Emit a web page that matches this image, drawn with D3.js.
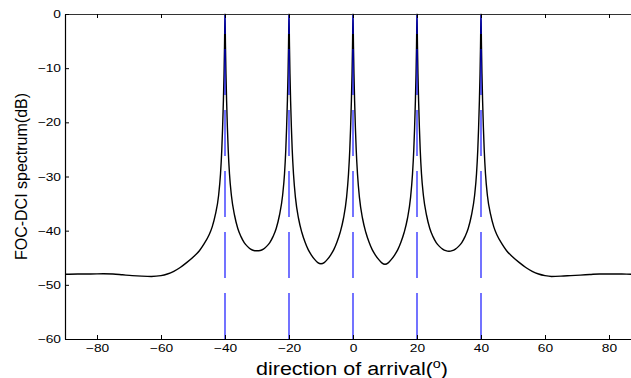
<!DOCTYPE html>
<html>
<head>
<meta charset="utf-8">
<script src="https://cdn.jsdelivr.net/npm/d3@7"></script>
<style>
  body { margin: 0; background: #fff; }
  svg { display: block; font-family: "Liberation Sans", Arial, sans-serif; }
</style>
</head>
<body>
<div id="chart"></div>
<script>
// source directions (deg) marked by the blue dashed lines
const sources = [-40, -20, 0, 20, 40];
const xTicks = [-80, -60, -40, -20, 0, 20, 40, 60, 80];
const yTicks = [0, -10, -20, -30, -40, -50, -60];

// spectrum
const doa = [
  -90, -86, -82, -78, -75, -72, -69, -66, -63, -60, -58, -56, -54, -52, -50, -48, -46.5, -45, -44, -43,
  -42, -41.4, -41, -40.75, -40.5, -40.3, -40.15, -40,
  -39.85, -39.7, -39.5, -39.25, -39, -38.6, -38, -37, -36, -35, -34, -33, -32, -31, -30,
  -29, -28, -27, -26, -25, -24, -23, -22, -21.4, -21, -20.75, -20.5, -20.3, -20.15, -20,
  -19.85, -19.7, -19.5, -19.25, -19, -18.6, -18, -17, -16, -15, -14, -13, -12, -11, -10,
  -9, -8, -7, -6, -5, -4, -3, -2, -1.4, -1, -0.75, -0.5, -0.3, -0.15, 0,
  0.15, 0.3, 0.5, 0.75, 1, 1.4, 2, 3, 4, 5, 6, 7, 8, 9, 10,
  11, 12, 13, 14, 15, 16, 17, 18, 18.6, 19, 19.25, 19.5, 19.7, 19.85, 20,
  20.15, 20.3, 20.5, 20.75, 21, 21.4, 22, 23, 24, 25, 26, 27, 28, 29, 30,
  31, 32, 33, 34, 35, 36, 37, 38, 38.6, 39, 39.25, 39.5, 39.7, 39.85, 40,
  40.15, 40.3, 40.5, 40.75, 41, 41.4, 42, 43, 44, 45, 46.5, 48, 50, 52, 54, 56, 58, 60, 62, 65,
  68, 71, 74, 77, 80, 84, 87, 90
];
const spectrum = [
  -48.05, -48.0, -48.0, -47.95, -48.0, -48.15, -48.3, -48.4, -48.45, -48.3, -48.0, -47.5, -46.8, -45.9, -44.9, -43.7, -42.4, -40.8, -39.3, -37.0,
  -33.5, -29.5, -25, -21, -16, -11, -6, 0,
  -6, -11, -16, -21, -25, -29.5, -33.5, -37.2, -39.6, -41.1, -42.2, -42.9, -43.4, -43.65, -43.7,
  -43.65, -43.4, -42.9, -42.2, -41.1, -39.6, -37.2, -33.5, -29.5, -25, -21, -16, -11, -6, 0,
  -6, -11, -16, -21, -25, -29.5, -33.8, -37.8, -40.3, -42.1, -43.5, -44.5, -45.3, -45.9, -46.1,
  -45.9, -45.3, -44.5, -43.5, -42.1, -40.3, -37.8, -33.8, -29.5, -25, -21, -16, -11, -6, 0,
  -6, -11, -16, -21, -25, -29.5, -33.8, -37.8, -40.3, -42.1, -43.5, -44.5, -45.3, -45.95, -46.2,
  -45.95, -45.3, -44.5, -43.5, -42.1, -40.3, -37.8, -33.8, -29.5, -25, -21, -16, -11, -6, 0,
  -6, -11, -16, -21, -25, -29.5, -33.5, -37.2, -39.6, -41.1, -42.2, -42.9, -43.4, -43.7, -43.8,
  -43.7, -43.4, -42.9, -42.2, -41.1, -39.6, -37.2, -33.5, -29.5, -25, -21, -16, -11, -6, 0,
  -6, -11, -16, -21, -25, -29.5, -33.5, -37.0, -39.3, -40.8, -42.4, -43.7, -44.9, -45.9, -46.8, -47.5, -48.0, -48.3, -48.45, -48.4,
  -48.3, -48.2, -48.1, -48.0, -48.0, -48.0, -48.05, -48.05
];

const width = 631, height = 378;
const margin = { top: 14, left: 65 };
const plotW = 576, plotH = 325; // right edge of the axes box falls outside the image

const svg = d3.select("#chart").append("svg")
  .attr("width", width)
  .attr("height", height);

const x = d3.scaleLinear().domain([-90, 90]).range([margin.left, margin.left + plotW]);
const y = d3.scaleLinear().domain([-60, 0]).range([margin.top + plotH, margin.top]);

// stretch text horizontally like the original export
function stretch(sel, k) {
  sel.each(function () {
    const w = this.getComputedTextLength();
    d3.select(this).attr("textLength", w * k).attr("lengthAdjust", "spacingAndGlyphs");
  });
}

// spectrum curve
const line = d3.line()
  .x((d, i) => x(doa[i]))
  .y(d => y(d))
  .curve(d3.curveMonotoneX);

svg.append("path")
  .datum(spectrum)
  .attr("d", line)
  .attr("fill", "none")
  .attr("stroke", "#000")
  .attr("stroke-width", 1.4);

// blue dashed lines at the true directions, dashes start from the bottom
svg.selectAll(".src")
  .data(sources)
  .enter().append("line")
  .attr("class", "src")
  .attr("x1", d => x(d)).attr("x2", d => x(d))
  .attr("y1", y(-60)).attr("y2", y(0))
  .attr("stroke", "#0000ff")
  .attr("stroke-width", 1.1)
  .attr("stroke-dasharray", "46,15");

// axes with inward ticks, MATLAB box style
const gx = svg.append("g")
  .attr("transform", `translate(0,${margin.top + plotH})`)
  .call(d3.axisBottom(x).tickValues(xTicks).tickSize(-4).tickPadding(5).tickSizeOuter(0));

const gTop = svg.append("g")
  .attr("transform", `translate(0,${margin.top})`)
  .call(d3.axisTop(x).tickValues(xTicks).tickSize(-4).tickFormat("").tickSizeOuter(0));

const gy = svg.append("g")
  .attr("transform", `translate(${margin.left},0)`)
  .call(d3.axisLeft(y).tickValues(yTicks).tickSize(-4).tickPadding(4).tickSizeOuter(0));

[gx, gTop, gy].forEach(g => {
  g.select(".domain").attr("stroke", "#000").attr("stroke-width", 1.2);
  g.selectAll(".tick line").attr("stroke", "#000");
  g.selectAll("text")
    .attr("fill", "#000")
    .style("font-size", "11px")
    .style("font-family", "Liberation Sans, Arial, sans-serif");
});
gTop.select(".domain").attr("stroke", "#333");
stretch(gx.selectAll("text"), 1.25);
stretch(gy.selectAll("text"), 1.25);

// axis titles
const xLabel = svg.append("text")
  .attr("x", x(0) - 1)
  .attr("y", 375)
  .attr("text-anchor", "middle")
  .style("font-size", "18px")
  .text("direction of arrival(");
xLabel.append("tspan")
  .attr("baseline-shift", "super")
  .style("font-size", "12px")
  .text("o");
xLabel.append("tspan").text(")");
xLabel.attr("textLength", 192).attr("lengthAdjust", "spacingAndGlyphs");

const yLabel = svg.append("text")
  .attr("transform", `translate(27,${y(-30)}) rotate(-90)`)
  .attr("text-anchor", "middle")
  .style("font-size", "16px")
  .text("FOC-DCI spectrum(dB)");
</script>
</body>
</html>
